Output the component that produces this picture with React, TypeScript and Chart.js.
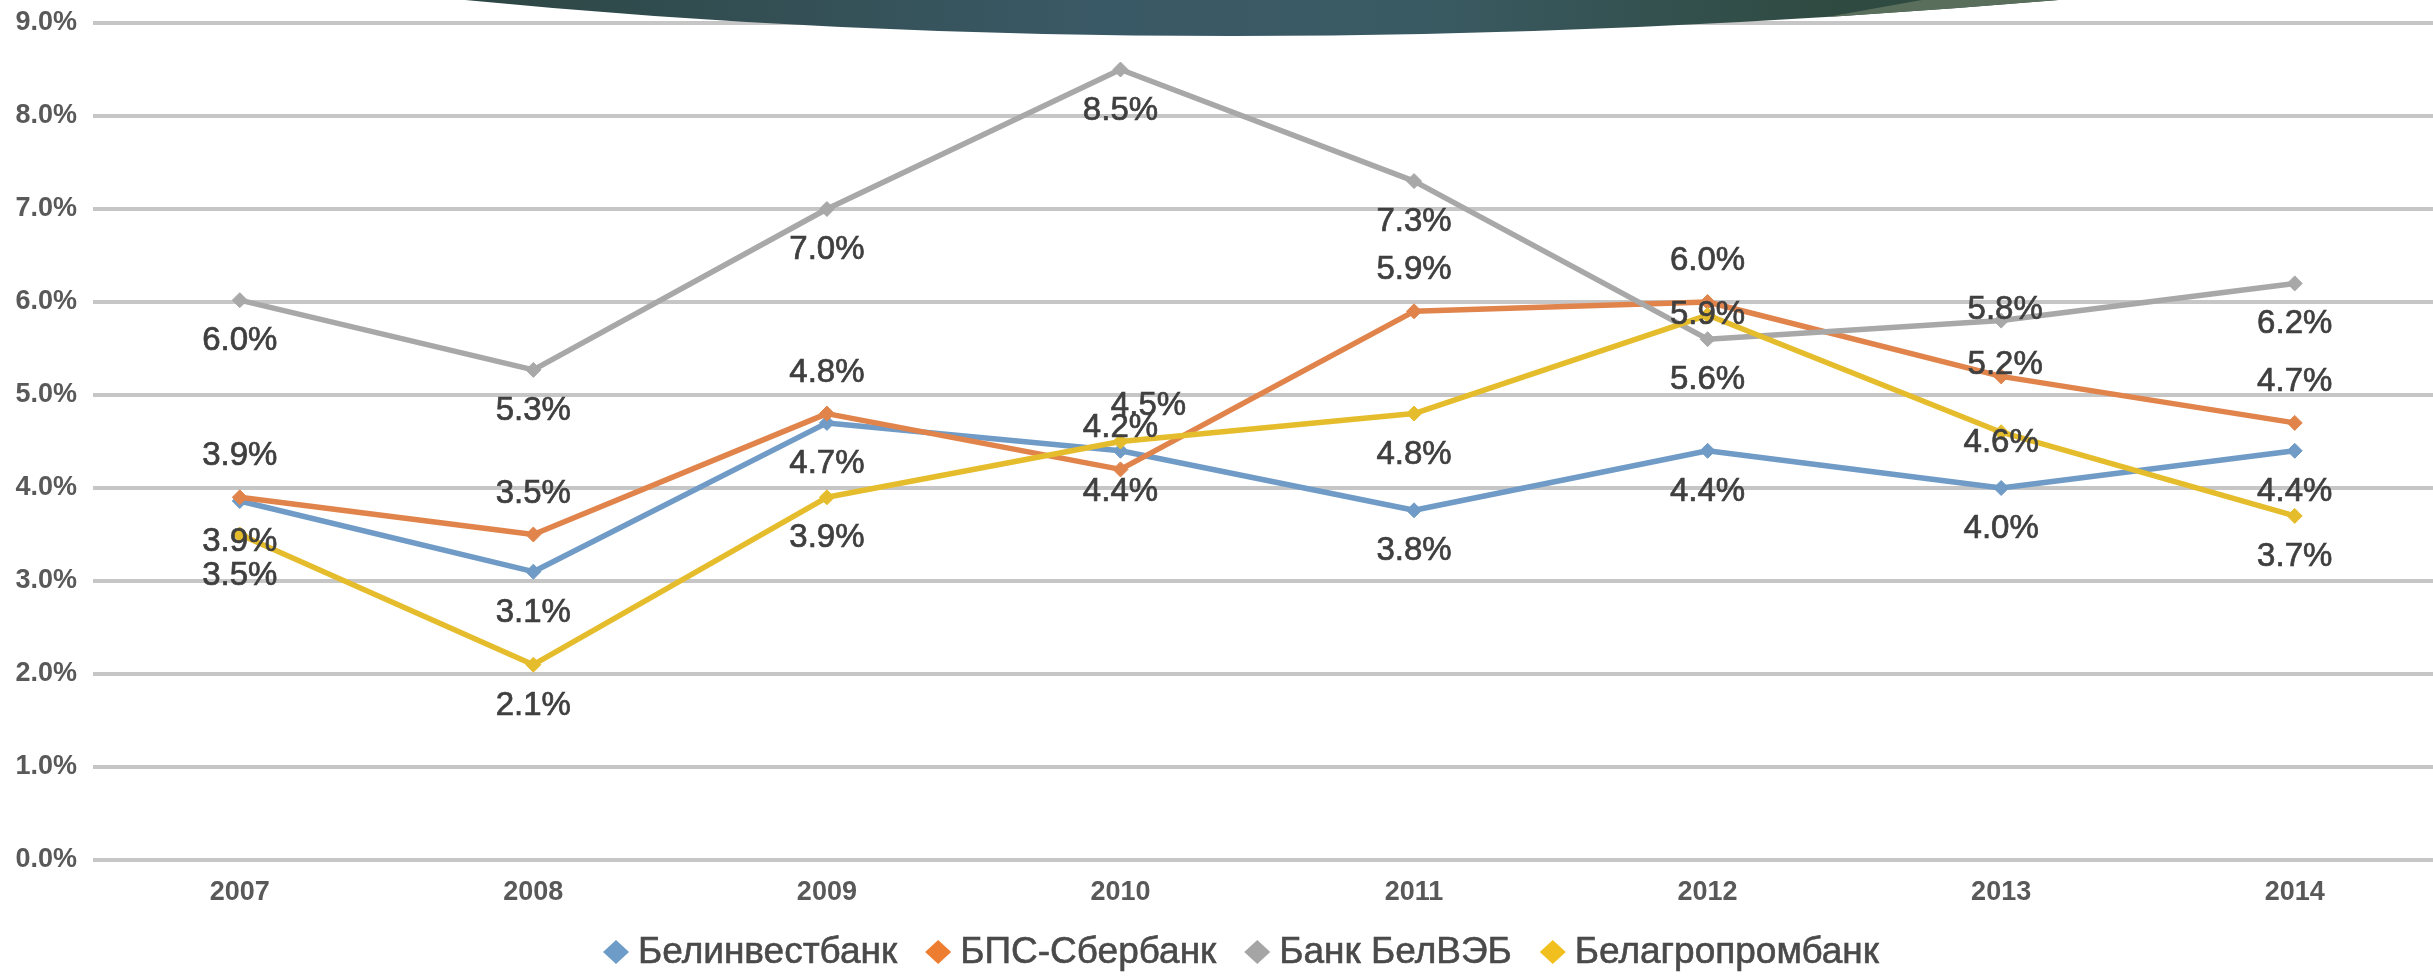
import React, { useEffect, useRef } from "react";
import { Chart, registerables } from "chart.js";

Chart.register(...registerables);

const years = ["2007", "2008", "2009", "2010", "2011", "2012", "2013", "2014"];
const seriesNames = ["Белинвестбанк", "БПС-Сбербанк", "Банк БелВЭБ", "Белагропромбанк"];
const belinvest = [3.86, 3.1, 4.7, 4.4, 3.76, 4.4, 4.0, 4.4];
const bps = [3.9, 3.5, 4.8, 4.2, 5.9, 6.0, 5.2, 4.7];
const belveb = [6.02, 5.27, 7.0, 8.5, 7.3, 5.6, 5.8, 6.2];
const belagro = [3.5, 2.1, 3.9, 4.5, 4.8, 5.86, 4.6, 3.7];
const yTicks = [0, 1, 2, 3, 4, 5, 6, 7, 8, 9];

// label placement per point: a = above, b = below, c = on the point,
// u = slightly up, d = slightly down, r = above and to the right
const placeBelinvest = ["b", "b", "b", "b", "b", "b", "b", "b"];
const placeBps = ["a", "a", "a", "a", "a", "a", "u", "a"];
const placeBelveb = ["b", "b", "b", "b", "b", "b", "u", "b"];
const placeBelagro = ["b", "b", "b", "r", "b", "c", "d", "b"];

const colors = ["#6f9bc6", "#e0844c", "#a8a8a8", "#e5bd2c"];
const legendColors = ["#6e9cc9", "#ed7d31", "#a5a5a5", "#f2c01e"];

const placements = [placeBelinvest, placeBps, placeBelveb, placeBelagro];
const placeOffsets: Record<string, [number, number]> = {
  a: [0, -41],
  b: [0, 41],
  c: [0, 0],
  u: [4, -11],
  d: [0, 11],
  r: [28, -36],
};

const dataLabelPlugin = {
  id: "dataLabels",
  afterDatasetsDraw(chart: any) {
    const ctx = chart.ctx;
    ctx.save();
    ctx.font = "33px 'Liberation Sans', Arial, sans-serif";
    ctx.fillStyle = "#3f3f3f";
    ctx.strokeStyle = "#3f3f3f";
    ctx.lineWidth = 0.7;
    ctx.textAlign = "center";
    ctx.textBaseline = "middle";
    chart.data.datasets.forEach((ds: any, di: number) => {
      const meta = chart.getDatasetMeta(di);
      meta.data.forEach((pt: any, i: number) => {
        const v = ds.data[i];
        const [dx, dy] = placeOffsets[placements[di][i]];
        const t = v.toFixed(1) + "%";
        ctx.fillText(t, pt.x + dx, pt.y + dy);
        ctx.strokeText(t, pt.x + dx, pt.y + dy);
      });
    });
    ctx.restore();
  },
};

const legendPlugin = {
  id: "customLegend",
  afterDraw(chart: any) {
    const ctx = chart.ctx;
    ctx.save();
    ctx.font = "37px 'Liberation Sans', Arial, sans-serif";
    const markerW = 26;
    const gapText = 9;
    const gapItem = 28;
    const items = chart.data.datasets.map((ds: any) => ({
      label: ds.label,
      color: ds.legendColor,
      w: ctx.measureText(ds.label).width,
    }));
    let total = 0;
    items.forEach((it: any, i: number) => {
      total += markerW + gapText + it.w + (i < items.length - 1 ? gapItem : 0);
    });
    const cy = 952;
    let x = chart.width / 2 + 16 - total / 2;
    items.forEach((it: any) => {
      ctx.fillStyle = it.color;
      ctx.beginPath();
      ctx.moveTo(x, cy);
      ctx.lineTo(x + markerW / 2, cy - 12);
      ctx.lineTo(x + markerW, cy);
      ctx.lineTo(x + markerW / 2, cy + 12);
      ctx.closePath();
      ctx.fill();
      x += markerW + gapText;
      ctx.fillStyle = "#4a4a4a";
      ctx.strokeStyle = "#4a4a4a";
      ctx.lineWidth = 0.6;
      ctx.textAlign = "left";
      ctx.textBaseline = "middle";
      ctx.fillText(it.label, x, cy + 1);
      ctx.strokeText(it.label, x, cy + 1);
      x += it.w + gapItem;
    });
    ctx.restore();
  },
};

const decorPlugin = {
  id: "decor",
  afterDraw(chart: any) {
    const ctx = chart.ctx;
    ctx.save();
    ctx.beginPath();
    ctx.moveTo(445, -2);
    ctx.quadraticCurveTo(1200, 74, 2082, -2);
    ctx.closePath();
    const g = ctx.createLinearGradient(445, 0, 2082, 0);
    g.addColorStop(0, "#2d4643");
    g.addColorStop(0.4, "#3a5966");
    g.addColorStop(0.6, "#3a5a63");
    g.addColorStop(0.85, "#2f4a40");
    g.addColorStop(1, "#2f4a40");
    ctx.fillStyle = g;
    ctx.fill();
    ctx.clip();
    ctx.beginPath();
    ctx.moveTo(1933, -2);
    ctx.lineTo(1586, 60);
    ctx.lineTo(2200, 60);
    ctx.lineTo(2200, -2);
    ctx.closePath();
    ctx.fillStyle = "#5a6e5c";
    ctx.fill();
    ctx.restore();
  },
};

export default function App() {
  const ref = useRef<HTMLCanvasElement | null>(null);
  useEffect(() => {
    if (!ref.current) return;
    const allData = [belinvest, bps, belveb, belagro];
    const chart = new Chart(ref.current, {
      type: "line",
      data: {
        labels: years,
        datasets: allData.map((d, i) => ({
          label: seriesNames[i],
          data: d,
          borderColor: colors[i],
          backgroundColor: colors[i],
          legendColor: legendColors[i],
          borderWidth: 5.5,
          pointStyle: "rectRot",
          pointRadius: 7.5,
          pointBorderWidth: 1,
          borderJoinStyle: "round",
          borderCapStyle: "round",
          tension: 0,
          order: 4 - i,
        })) as any,
      },
      options: {
        animation: false,
        responsive: true,
        maintainAspectRatio: false,
        layout: { padding: { top: 23, right: 2, left: 0, bottom: 0 } },
        plugins: {
          legend: { display: false },
          tooltip: { enabled: false },
        },
        scales: {
          x: {
            type: "category",
            offset: true,
            grid: { display: false, drawTicks: false },
            border: { display: false },
            ticks: {
              color: "#595959",
              font: { family: "'Liberation Sans', Arial, sans-serif", size: 27, weight: "bold" },
              padding: 16,
              maxRotation: 0,
            },
            afterFit: (s: any) => {
              s.height = 116;
              s.paddingLeft = 0;
              s.paddingRight = 0;
            },
          },
          y: {
            min: 0,
            max: 9,
            afterBuildTicks: (s: any) => {
              s.ticks = yTicks.map((v) => ({ value: v }));
            },
            ticks: {
              color: "#595959",
              font: { family: "'Liberation Sans', Arial, sans-serif", size: 27, weight: "bold" },
              padding: 16,
              callback: (v: any) => Number(v).toFixed(1) + "%",
            },
            grid: { color: "#c6c6c6", lineWidth: 4, drawTicks: false },
            border: { display: false },
            afterFit: (s: any) => {
              s.width = 93;
              s.paddingTop = 0;
              s.paddingBottom = 0;
            },
          },
        },
      } as any,
      plugins: [dataLabelPlugin, legendPlugin, decorPlugin],
    });
    return () => chart.destroy();
  }, []);
  return (
    <div style={{ position: "absolute", left: 0, top: 0, width: 2433, height: 976, overflow: "hidden", background: "#ffffff" }}>
      <div style={{ width: 2450, height: 976 }}>
        <canvas ref={ref} />
      </div>
    </div>
  );
}
